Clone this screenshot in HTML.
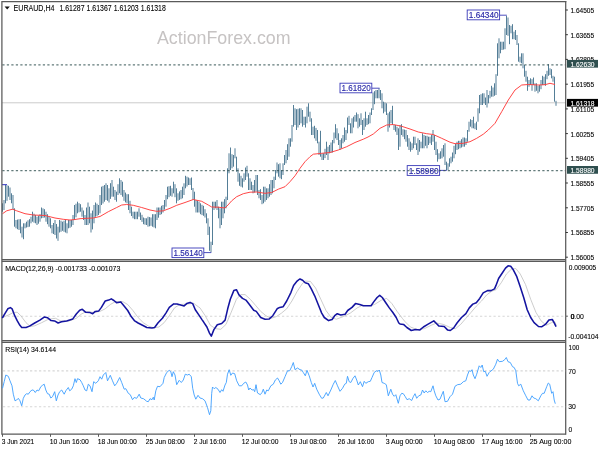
<!DOCTYPE html><html><head><meta charset="utf-8"><title>EURAUD H4</title>
<style>html,body{margin:0;padding:0;background:#fff}svg{display:block}text{font-family:'Liberation Sans', sans-serif}</style></head><body>
<svg width="600" height="450" viewBox="0 0 600 450">
<rect width="600" height="450" fill="#fff"/>
<text x="157" y="43.8" font-size="18.6" fill="#c6c3c3" textLength="133.5" lengthAdjust="spacingAndGlyphs">ActionForex.com</text>
<line x1="2" x2="565.7" y1="102.8" y2="102.8" stroke="#cbcbcb" stroke-width="1"/>
<path d="M2.50,203.3V211.7M4.00,200.0V210.0M5.50,185.0V203.3M7.00,185.3V200.8M8.50,185.8V196.7M10.00,187.5V200.0M11.50,193.3V203.3M13.00,195.0V210.0M14.50,208.3V226.7M16.00,220.0V228.3M17.50,219.6V229.2M19.00,219.2V230.0M20.50,219.2V233.3M22.00,226.7V237.5M23.50,223.3V239.2M25.00,223.3V228.3M26.50,221.7V227.5M28.00,220.3V227.1M29.50,219.2V226.7M31.00,216.7V223.3M32.50,211.7V221.7M34.00,213.7V222.7M35.50,215.0V223.3M37.00,216.7V225.0M38.50,215.7V223.7M40.00,214.2V221.7M41.50,207.5V218.3M43.00,208.4V217.9M44.50,209.2V217.5M46.00,211.7V221.7M47.50,214.2V224.2M49.00,216.7V226.7M50.50,218.3V228.3M52.00,225.0V233.3M53.50,223.0V234.0M55.00,220.0V235.0M56.50,224.0V238.5M58.00,226.7V240.8M59.50,220.0V232.5M61.00,220.7V231.8M62.50,221.7V230.8M64.00,220.7V231.8M65.50,220.0V232.5M67.00,223.3V233.3M68.50,220.0V228.3M70.00,220.0V227.8M71.50,220.0V226.7M73.00,215.0V225.0M74.50,205.0V220.0M76.00,203.7V217.3M77.50,201.7V213.3M79.00,203.2V212.3M80.50,204.2V211.7M82.00,207.5V216.7M83.50,210.5V220.0M85.00,215.0V225.0M86.50,207.5V225.0M88.00,202.5V225.0M89.50,206.7V223.3M91.00,213.3V232.5M92.50,210.6V229.4M94.00,205.0V223.3M95.50,202.5V216.7M97.00,203.7V215.9M98.50,205.0V215.0M100.00,195.0V213.3M101.50,186.7V205.0M103.00,185.9V203.5M104.50,185.0V201.7M106.00,183.3V200.0M107.50,185.0V200.8M109.00,188.3V202.5M110.50,183.2V198.9M112.00,180.0V196.7M113.50,186.7V196.7M115.00,190.0V200.0M116.50,191.7V201.7M118.00,184.2V195.0M119.50,178.3V193.3M121.00,180.0V195.0M122.50,181.7V196.7M124.00,190.0V200.8M125.50,192.6V202.4M127.00,194.2V203.3M128.50,194.2V210.0M130.00,200.8V213.3M131.50,206.7V216.0M133.00,211.7V218.3M134.50,211.7V219.2M136.00,211.7V219.2M137.50,211.7V219.2M139.00,208.3V216.7M140.50,212.5V220.0M142.00,214.8V221.9M143.50,217.5V224.2M145.00,218.1V224.7M146.50,218.3V225.0M148.00,216.7V226.7M149.50,217.1V226.3M151.00,217.5V225.8M152.50,214.2V226.7M154.00,214.2V227.4M155.50,214.2V228.3M157.00,207.5V220.0M158.50,207.5V217.7M160.00,207.5V215.0M161.50,205.8V214.2M163.00,205.0V212.5M164.50,200.0V209.6M166.00,195.0V206.7M167.50,186.7V199.2M169.00,186.2V197.2M170.50,185.8V195.8M172.00,188.3V196.7M173.50,181.7V193.3M175.00,184.2V197.2M176.50,188.3V203.3M178.00,193.3V200.8M179.50,191.4V199.9M181.00,190.0V199.2M182.50,186.7V198.3M184.00,183.3V195.0M185.50,175.8V188.3M187.00,176.7V186.5M188.50,177.5V185.0M190.00,178.3V185.0M191.50,177.5V190.0M193.00,188.0V200.0M194.50,191.7V206.7M196.00,200.0V212.5M197.50,200.7V212.5M199.00,201.7V212.5M200.50,203.3V214.2M202.00,204.8V215.1M203.50,205.8V215.8M205.00,209.2V217.5M206.50,213.3V223.3M208.00,218.3V235.0M209.50,226.7V250.8M211.00,241.7V252.5M212.50,201.7V245.0M214.00,201.7V210.0M215.50,201.7V208.3M217.00,200.0V210.0M218.50,206.7V218.3M220.00,208.3V228.3M221.50,201.7V225.0M223.00,201.7V218.3M224.50,199.2V213.3M226.00,196.7V208.3M227.50,168.3V200.0M229.00,153.3V173.3M230.50,147.5V170.0M232.00,154.2V168.3M233.50,155.0V166.7M235.00,148.3V158.3M236.50,156.7V171.7M238.00,168.3V181.7M239.50,173.3V185.8M241.00,175.8V186.7M242.50,178.3V187.5M244.00,173.3V181.7M245.50,167.5V180.0M247.00,165.8V176.7M248.50,173.3V190.0M250.00,178.3V190.0M251.50,181.7V190.0M253.00,185.0V193.3M254.50,180.0V192.5M256.00,175.0V191.7M257.50,175.0V195.0M259.00,190.0V198.3M260.50,189.2V200.0M262.00,195.0V204.2M263.50,186.7V203.3M265.00,186.7V201.7M266.50,188.3V200.0M268.00,188.3V198.3M269.50,184.2V196.7M271.00,180.0V195.0M272.50,180.0V193.3M274.00,176.7V188.3M275.50,170.0V180.0M277.00,162.5V173.3M278.50,164.2V176.7M280.00,163.3V178.3M281.50,170.0V179.2M283.00,163.3V175.0M284.50,155.0V165.0M286.00,150.0V163.3M287.50,144.2V160.0M289.00,138.3V156.7M290.50,138.3V146.7M292.00,125.0V141.7M293.50,105.0V126.7M295.00,108.3V125.0M296.50,109.2V130.0M298.00,108.8V127.5M299.50,108.3V125.0M301.00,108.3V123.3M302.50,110.0V126.7M304.00,116.7V125.0M305.50,116.7V127.5M307.00,106.7V123.3M308.50,103.3V116.7M310.00,111.7V121.7M311.50,118.3V135.0M313.00,126.7V135.0M314.50,125.8V138.3M316.00,127.9V140.8M317.50,130.0V143.3M319.00,141.7V155.0M320.50,130.8V156.7M322.00,153.3V160.0M323.50,153.3V160.0M325.00,148.8V158.1M326.50,141.7V155.0M328.00,146.7V160.0M329.50,145.0V153.3M331.00,142.5V152.9M332.50,140.0V152.5M334.00,132.5V143.3M335.50,124.2V138.3M337.00,128.3V140.0M338.50,133.3V145.0M340.00,140.0V150.0M341.50,138.3V148.3M343.00,135.0V143.3M344.50,127.5V141.7M346.00,130.0V140.0M347.50,117.5V133.3M349.00,115.8V125.0M350.50,123.3V133.3M352.00,118.3V133.3M353.50,116.7V127.5M355.00,115.0V121.7M356.50,112.5V121.7M358.00,114.2V128.3M359.50,118.3V126.7M361.00,113.3V125.0M362.50,120.0V135.0M364.00,118.3V130.0M365.50,111.7V126.7M367.00,118.3V125.0M368.50,115.0V124.2M370.00,112.5V123.3M371.50,108.3V115.0M373.00,92.5V110.0M374.50,91.2V104.2M376.00,90.0V98.3M377.50,90.0V98.3M379.00,88.3V98.3M380.50,90.0V100.0M382.00,93.3V108.3M383.50,101.7V113.3M385.00,102.5V111.7M386.50,103.3V115.0M388.00,113.3V131.7M389.50,111.7V127.5M391.00,110.0V123.3M392.50,105.8V125.0M394.00,125.0V130.0M395.50,125.0V131.7M397.00,126.7V135.0M398.50,128.3V150.0M400.00,125.0V146.7M401.50,124.2V135.0M403.00,129.2V136.7M404.50,129.6V139.2M406.00,130.0V141.7M407.50,135.0V146.7M409.00,138.3V150.0M410.50,141.7V151.7M412.00,143.3V150.0M413.50,136.7V148.3M415.00,136.7V145.0M416.50,143.3V150.0M418.00,138.3V155.0M419.50,140.0V151.7M421.00,141.7V148.3M422.50,133.3V148.3M424.00,135.0V148.3M425.50,135.8V145.8M427.00,135.8V148.3M428.50,136.7V145.0M430.00,136.7V143.3M431.50,135.0V145.0M433.00,130.0V141.7M434.50,135.0V150.0M436.00,141.7V155.0M437.50,149.2V161.7M439.00,153.3V159.2M440.50,151.3V158.8M442.00,148.3V158.3M443.50,145.0V156.7M445.00,143.3V165.0M446.50,161.7V170.0M448.00,163.3V170.0M449.50,158.3V166.7M451.00,156.7V163.3M452.50,152.5V161.7M454.00,145.8V158.3M455.50,143.8V154.2M457.00,141.7V150.0M458.50,140.8V149.2M460.00,140.8V148.3M461.50,139.2V147.5M463.00,137.5V146.7M464.50,137.5V146.7M466.00,138.3V145.0M467.50,130.0V141.7M469.00,121.7V131.7M470.50,119.2V126.7M472.00,120.0V128.3M473.50,116.7V128.3M475.00,123.3V129.2M476.50,121.7V130.0M478.00,108.3V121.7M479.50,95.0V113.3M481.00,94.2V105.0M482.50,93.3V105.0M484.00,93.3V103.3M485.50,97.5V105.0M487.00,90.0V107.5M488.50,95.0V103.3M490.00,90.8V98.3M491.50,85.8V96.7M493.00,87.5V96.7M494.50,83.3V95.8M496.00,74.2V95.0M497.50,43.3V75.8M499.00,38.3V58.3M500.50,41.7V53.3M502.00,41.7V50.0M503.50,41.7V49.6M505.00,28.3V49.2M506.50,15.8V35.0M508.00,17.5V35.8M509.50,25.0V44.2M511.00,25.8V33.3M512.50,24.2V39.2M514.00,31.7V39.2M515.50,30.0V40.0M517.00,35.0V45.0M518.50,43.3V61.7M520.00,56.7V62.5M521.50,53.3V63.3M523.00,53.3V68.3M524.50,65.0V76.7M526.00,70.8V81.7M527.50,76.7V90.8M529.00,80.0V86.7M530.50,78.3V85.0M532.00,79.2V90.8M533.50,77.5V85.0M535.00,83.3V91.7M536.50,83.3V90.8M538.00,85.8V93.3M539.50,85.0V91.7M541.00,80.0V89.2M542.50,75.8V85.0M544.00,76.7V85.0M545.50,74.2V85.8M547.00,70.8V79.2M548.50,64.2V75.8M550.00,68.3V75.0M551.50,69.2V78.3M553.00,75.8V81.7M554.50,76.7V101.7M556.00,100.8V105.8" stroke="#4b7791" stroke-width="1.0" fill="none" opacity="0.95"/>
<path d="M2.5,213.7 L6.7,210.8 L12.5,209.2 L16.7,210.8 L25.0,213.7 L33.3,215.0 L45.0,215.5 L55.0,218.0 L63.3,219.3 L70.0,220.0 L75.0,219.5 L80.0,218.7 L86.7,218.3 L93.3,218.0 L100.0,216.5 L108.3,211.7 L116.7,207.5 L121.7,205.0 L126.7,204.5 L133.3,205.3 L141.7,207.5 L150.0,210.0 L156.7,211.3 L163.3,210.8 L170.0,208.3 L176.7,205.3 L185.0,202.5 L193.3,199.5 L201.7,201.3 L208.3,205.0 L211.7,207.0 L218.3,207.2 L225.0,208.0 L228.0,205.0 L231.7,200.8 L236.7,196.7 L243.3,193.7 L250.0,192.2 L256.7,192.0 L265.0,193.3 L271.7,192.5 L278.3,189.2 L285.0,186.7 L290.0,181.7 L295.0,175.8 L300.0,168.3 L305.0,161.7 L310.0,156.7 L313.3,154.2 L321.7,153.3 L330.0,152.5 L338.3,150.0 L346.7,146.7 L355.0,142.5 L363.3,139.2 L368.0,137.0 L373.3,134.0 L380.0,128.3 L386.7,125.0 L393.3,124.5 L401.7,126.3 L410.0,129.0 L418.3,132.0 L426.7,133.7 L433.3,134.5 L441.7,138.3 L450.0,142.2 L455.0,143.7 L463.3,143.3 L470.0,141.7 L476.7,138.3 L483.3,134.2 L488.3,130.0 L495.0,123.3 L501.7,111.7 L508.3,100.0 L515.0,90.0 L521.7,85.0 L528.3,84.5 L538.3,85.0 L545.0,84.7 L550.0,83.3 L555.0,84.5" stroke="#ff3c3c" stroke-width="0.95" fill="none" stroke-linejoin="round"/>
<path d="M499.59999999999997,15.2H506.8" stroke="#3a3ab8" stroke-width="0.9" fill="none"/><rect x="467.2" y="10" width="32.4" height="9.8" fill="#fff" stroke="#3a3ab8" stroke-width="0.9"/>
<path d="M371.8,88.2H379.6" stroke="#3a3ab8" stroke-width="0.9" fill="none"/><rect x="340" y="83.2" width="31.8" height="9.6" fill="#fff" stroke="#3a3ab8" stroke-width="0.9"/>
<path d="M439.59999999999997,170.4H446.8" stroke="#3a3ab8" stroke-width="0.9" fill="none"/><rect x="407.2" y="165.6" width="32.4" height="9.8" fill="#fff" stroke="#3a3ab8" stroke-width="0.9"/>
<path d="M203.8,252.6H211.2" stroke="#3a3ab8" stroke-width="0.9" fill="none"/><rect x="172" y="248" width="31.8" height="9.6" fill="#fff" stroke="#3a3ab8" stroke-width="0.9"/>
<path d="M2,184.7H7" stroke="#2a2ac0" stroke-width="1"/>
<line x1="2" x2="565.7" y1="64.8" y2="64.8" stroke="#2f4f4f" stroke-width="1.2" stroke-dasharray="2.25 2.25" stroke-dashoffset="-0.3" opacity="0.75"/>
<line x1="2" x2="565.7" y1="170.6" y2="170.6" stroke="#2f4f4f" stroke-width="1.2" stroke-dasharray="2.25 2.25" stroke-dashoffset="-0.3" opacity="0.75"/>
<text x="483.7" y="18.3" font-size="8.7" fill="#2a2aa8" stroke="#2a2aa8" stroke-width="0.15" text-anchor="middle" textLength="29.8" lengthAdjust="spacingAndGlyphs">1.64340</text>
<text x="356.2" y="91.3" font-size="8.7" fill="#2a2aa8" stroke="#2a2aa8" stroke-width="0.15" text-anchor="middle" textLength="29.2" lengthAdjust="spacingAndGlyphs">1.61820</text>
<text x="423.7" y="173.9" font-size="8.7" fill="#2a2aa8" stroke="#2a2aa8" stroke-width="0.15" text-anchor="middle" textLength="29.8" lengthAdjust="spacingAndGlyphs">1.58980</text>
<text x="188.20000000000002" y="256.1" font-size="8.7" fill="#2a2aa8" stroke="#2a2aa8" stroke-width="0.15" text-anchor="middle" textLength="29.2" lengthAdjust="spacingAndGlyphs">1.56140</text>
<g stroke="#5a5a5a" stroke-width="1.25" fill="none">
<path d="M1.9,434.8V1.7H566.3"/>
<path d="M565.7,1.1V434.8"/>
<path d="M1.9,259.6H565.7M1.9,261.4H565.7M1.9,340.5H565.7M1.9,342.3H565.7M1.9,434.2H565.7"/>
</g>
<line x1="2" x2="565.7" y1="316.2" y2="316.2" stroke="#cdcdcd" stroke-width="1.15" stroke-dasharray="2.25 2.25" stroke-dashoffset="-1" opacity="0.8"/>
<path d="M2.6,317.5 L8.7,314.9 L13.9,312.3 L17.3,312.3 L20.8,315.7 L26.0,322.7 L30.3,326.5 L34.7,325.8 L41.6,322.7 L48.5,319.2 L55.5,318.3 L60.7,320.9 L69.3,320.9 L76.3,318.3 L81.5,314.0 L86.7,311.4 L93.6,312.6 L99.7,311.4 L100.0,311.4 L105.2,308.8 L110.4,304.5 L115.6,301.5 L122.5,301.5 L127.7,304.5 L132.9,310.5 L138.1,317.5 L143.3,322.7 L148.5,326.1 L153.7,327.9 L158.9,327.0 L164.1,322.7 L169.3,315.7 L174.5,307.9 L179.7,304.5 L186.7,304.1 L193.6,303.3 L198.8,307.1 L200.0,307.9 L205.2,315.7 L210.4,325.3 L215.6,328.7 L220.8,329.3 L226.0,324.4 L231.2,312.3 L236.4,299.3 L240.7,294.6 L245.1,294.6 L250.3,299.3 L255.5,305.3 L260.7,311.4 L265.9,315.7 L271.1,318.3 L276.3,316.6 L281.5,313.1 L286.7,308.8 L291.9,301.0 L297.1,291.5 L302.3,283.7 L305.2,281.1 L310.4,281.4 L315.6,288.0 L320.8,299.3 L326.0,310.5 L331.2,317.5 L336.4,319.2 L343.3,316.6 L350.3,313.1 L357.2,307.9 L362.4,305.3 L369.3,305.7 L374.5,304.5 L381.5,300.1 L386.7,298.4 L391.9,303.6 L397.1,311.4 L402.3,318.3 L405.2,321.8 L410.4,327.0 L417.3,329.6 L424.3,328.7 L431.2,325.3 L436.4,323.0 L443.3,324.4 L450.3,327.5 L455.5,328.7 L460.7,324.4 L465.9,318.3 L471.1,312.3 L476.3,306.2 L481.5,301.0 L486.7,294.9 L491.9,291.1 L496.0,289.7 L501.2,282.8 L506.4,274.1 L511.6,268.9 L515.9,268.6 L520.3,274.1 L525.5,284.5 L530.7,299.3 L535.9,312.3 L541.1,320.9 L546.3,325.3 L551.5,322.7 L554.9,321.8 L556.3,325.3" stroke="#bcbcbc" stroke-width="0.75" fill="none"/>
<path d="M2.6,317.5 L5.2,313.1 L7.8,308.8 L10.4,307.6 L12.1,308.8 L14.7,315.7 L17.3,320.9 L19.9,325.3 L21.7,327.5 L26.0,327.5 L29.5,326.1 L34.7,323.0 L39.9,320.1 L44.2,317.1 L47.7,317.8 L51.1,320.6 L54.6,320.9 L58.1,323.0 L61.5,321.8 L66.7,320.9 L72.8,318.9 L76.3,314.0 L79.7,310.2 L82.3,309.3 L85.8,312.3 L90.1,312.6 L92.7,313.7 L95.3,311.4 L98.8,310.9 L101.4,307.4 L102.6,305.3 L105.2,301.0 L108.7,300.1 L111.3,298.9 L113.9,300.5 L116.5,302.7 L120.8,301.9 L124.3,306.2 L127.7,310.5 L131.2,316.6 L134.7,320.9 L138.1,323.0 L142.5,325.3 L146.8,327.5 L152.0,327.9 L154.6,327.5 L158.1,322.7 L162.4,318.3 L165.9,313.1 L169.3,307.4 L173.7,303.9 L177.1,304.1 L181.5,305.3 L184.1,305.9 L186.7,303.6 L190.1,302.4 L192.7,303.6 L195.3,309.7 L198.8,314.9 L202.3,320.1 L203.5,321.8 L206.9,327.0 L209.5,333.1 L211.3,336.2 L213.9,329.6 L217.3,324.7 L221.7,323.5 L225.1,320.1 L227.7,308.8 L230.3,299.3 L233.8,290.6 L236.4,289.7 L239.0,294.9 L242.5,298.4 L245.9,300.1 L249.4,304.5 L253.7,310.2 L256.3,311.4 L260.7,317.5 L265.0,319.2 L269.3,318.9 L272.8,315.7 L277.1,308.8 L279.7,307.4 L283.2,306.7 L286.7,301.0 L291.0,292.3 L293.6,285.4 L297.1,281.1 L299.7,279.0 L300.0,279.0 L302.6,280.2 L305.2,282.8 L308.3,283.7 L311.3,288.9 L314.7,295.8 L318.2,304.5 L321.7,313.1 L324.3,317.5 L328.6,320.6 L332.1,319.5 L334.7,315.7 L337.3,313.7 L340.7,314.9 L345.1,314.3 L347.7,310.5 L352.0,307.4 L355.5,303.6 L359.8,304.5 L363.3,305.7 L371.1,305.7 L373.7,301.9 L377.1,297.5 L379.7,295.3 L382.3,297.5 L385.8,302.7 L389.3,307.9 L392.7,312.3 L396.2,317.5 L398.8,323.0 L400.0,323.9 L403.5,324.4 L406.9,327.5 L411.3,330.5 L415.6,329.6 L419.9,329.9 L423.4,327.0 L427.7,324.4 L433.8,320.9 L436.4,323.5 L439.0,326.1 L444.2,326.5 L447.7,330.1 L450.3,330.5 L453.7,327.9 L457.2,322.7 L461.5,317.5 L465.9,313.7 L469.3,307.9 L472.8,304.1 L476.3,302.7 L479.7,298.4 L483.2,292.9 L487.5,290.6 L491.0,290.6 L494.5,288.9 L496.0,285.4 L498.6,278.5 L502.1,273.3 L505.5,268.1 L508.1,265.8 L510.7,266.3 L513.3,269.8 L516.8,276.7 L520.3,287.1 L523.7,297.5 L527.2,309.7 L530.7,317.5 L534.1,322.7 L538.5,326.5 L541.9,326.7 L545.4,324.4 L548.9,320.1 L552.3,319.5 L554.1,322.7 L555.8,326.1" stroke="#1414a0" stroke-width="1.55" fill="none" stroke-linejoin="round" stroke-linecap="round"/>
<line x1="2" x2="565.7" y1="370.8" y2="370.8" stroke="#cdcdcd" stroke-width="1.15" stroke-dasharray="2.25 2.25" stroke-dashoffset="-1" opacity="0.8"/>
<line x1="2" x2="565.7" y1="406.7" y2="406.7" stroke="#cdcdcd" stroke-width="1.15" stroke-dasharray="2.25 2.25" stroke-dashoffset="-1" opacity="0.8"/>
<path d="M2.5,388.3 L4.2,381.7 L5.8,375.0 L8.3,376.3 L10.0,380.8 L12.0,385.8 L13.3,394.2 L15.0,400.8 L16.7,400.0 L18.3,398.3 L20.0,400.8 L21.7,405.8 L23.3,398.3 L25.0,395.0 L26.7,393.7 L28.3,394.2 L30.0,391.7 L32.0,390.0 L33.3,390.0 L35.3,392.5 L37.0,390.0 L38.7,390.8 L40.8,386.7 L42.5,385.3 L44.2,384.2 L45.8,390.0 L47.5,393.7 L49.2,394.2 L50.8,398.0 L52.5,396.7 L54.7,391.7 L56.3,400.8 L58.0,395.0 L59.7,391.7 L61.7,390.0 L64.2,394.2 L65.8,390.8 L68.3,387.5 L69.7,390.8 L71.7,389.2 L73.3,385.8 L75.0,378.7 L76.3,382.5 L77.5,378.7 L80.0,379.7 L81.7,382.5 L83.3,385.8 L85.0,390.0 L86.7,390.8 L88.3,384.2 L90.0,385.8 L92.0,391.7 L93.7,381.7 L95.8,383.3 L98.3,380.8 L100.0,376.7 L101.7,379.2 L103.3,375.0 L105.8,372.5 L107.5,380.8 L110.3,375.3 L112.5,380.8 L114.7,385.8 L116.7,383.3 L119.7,377.5 L121.7,382.5 L124.2,389.2 L125.8,388.7 L128.3,393.3 L130.3,394.7 L132.5,399.7 L134.2,397.5 L136.7,398.3 L139.2,394.2 L140.8,398.0 L143.7,398.8 L146.7,401.3 L148.3,401.7 L150.0,398.7 L152.0,399.7 L153.3,397.2 L154.2,400.0 L155.8,390.8 L157.5,386.3 L160.0,386.7 L163.0,383.3 L164.2,377.5 L166.7,372.5 L169.2,370.3 L170.8,371.7 L172.0,376.7 L173.3,371.7 L175.0,375.0 L176.7,384.7 L179.2,380.3 L181.3,382.5 L183.3,380.0 L185.3,374.2 L187.5,375.0 L189.2,374.2 L191.3,376.7 L192.7,388.3 L194.2,395.0 L195.8,399.2 L198.0,395.3 L200.0,398.0 L202.5,398.7 L205.0,400.8 L207.5,407.5 L209.5,414.7 L210.8,410.8 L211.7,393.3 L212.5,387.0 L214.2,388.7 L215.8,387.5 L218.0,389.2 L220.0,392.5 L221.7,389.7 L223.0,391.3 L225.0,385.0 L226.3,382.5 L227.5,374.2 L229.2,369.7 L230.8,375.3 L232.5,373.0 L234.7,373.7 L236.7,380.8 L239.2,385.8 L241.7,385.8 L243.7,383.3 L245.8,382.0 L247.5,385.0 L248.7,390.0 L250.0,388.0 L252.0,390.0 L253.7,389.7 L254.7,391.7 L256.0,384.7 L257.5,393.0 L260.3,394.7 L262.0,392.5 L263.3,389.2 L265.0,394.2 L266.7,390.0 L268.3,390.8 L270.8,385.8 L273.3,384.2 L275.3,380.0 L277.5,378.0 L279.2,380.8 L280.8,384.2 L282.5,382.5 L285.0,376.7 L287.5,370.8 L289.7,370.8 L291.7,366.7 L293.3,362.5 L295.0,369.7 L297.5,368.0 L300.0,369.7 L301.7,370.0 L303.3,372.5 L305.3,375.8 L307.0,370.3 L309.2,375.8 L311.3,382.5 L313.0,387.0 L314.7,383.3 L316.7,389.2 L319.2,394.2 L321.7,398.3 L323.3,398.0 L326.3,392.5 L328.0,395.8 L330.8,390.0 L333.3,384.2 L335.3,380.5 L337.5,385.8 L340.0,391.3 L342.5,388.3 L344.7,384.2 L346.3,383.3 L347.5,376.3 L349.2,381.7 L350.8,382.5 L353.0,378.3 L355.0,375.8 L356.7,380.0 L358.3,385.0 L360.3,381.7 L362.5,386.7 L364.2,381.3 L365.8,383.3 L368.3,381.7 L370.3,381.3 L372.0,377.5 L374.2,372.5 L376.3,370.8 L378.0,371.3 L379.3,370.0 L380.8,375.0 L382.0,382.5 L384.2,383.3 L386.3,384.7 L388.3,395.8 L390.8,389.2 L392.5,394.2 L394.2,396.3 L395.8,394.7 L398.3,403.3 L400.0,395.8 L401.7,393.3 L403.3,393.7 L405.3,396.7 L407.0,399.7 L409.2,398.7 L411.7,400.5 L413.3,396.7 L415.0,393.7 L416.7,398.3 L418.7,395.8 L420.8,395.0 L422.5,390.0 L424.2,393.0 L425.8,390.8 L427.5,392.5 L429.2,391.3 L430.8,391.7 L433.0,385.8 L434.2,390.8 L435.8,395.8 L438.0,400.0 L440.0,399.2 L441.7,395.0 L443.3,391.3 L445.0,401.7 L447.5,401.3 L450.0,396.7 L452.5,394.2 L455.0,386.3 L457.5,384.7 L460.8,384.2 L463.3,381.7 L465.8,380.8 L467.5,375.0 L469.2,370.8 L470.8,371.3 L472.0,369.7 L473.3,375.0 L475.0,378.7 L476.7,374.2 L479.2,365.8 L480.8,367.5 L482.2,365.0 L483.7,371.7 L485.3,371.3 L487.0,376.3 L489.2,372.5 L490.0,371.7 L493.3,369.2 L495.8,364.2 L497.5,359.2 L499.2,361.7 L502.5,361.3 L504.7,359.7 L506.3,357.5 L508.0,361.7 L510.3,362.5 L512.5,366.7 L514.2,367.5 L515.8,370.8 L517.5,383.3 L518.7,385.8 L520.8,384.2 L523.3,390.8 L525.8,395.8 L528.0,400.0 L530.0,400.0 L532.0,395.8 L533.7,398.0 L535.8,398.7 L538.3,400.8 L540.8,395.8 L542.5,393.3 L544.2,393.3 L546.7,386.7 L548.3,383.0 L549.7,384.2 L551.7,393.3 L553.0,391.7 L554.2,400.0 L555.3,403.7" stroke="#3d9eff" stroke-width="0.9" fill="none" stroke-linejoin="round"/>
<g font-size="7.9" fill="#000" stroke="#000" stroke-width="0.1">
<path d="M565.7,10h2.2" stroke="#333" stroke-width="1"/>
<text x="570.4" y="12.9" textLength="23.8" lengthAdjust="spacingAndGlyphs">1.64505</text>
<path d="M565.7,34.7h2.2" stroke="#333" stroke-width="1"/>
<text x="570.4" y="37.6" textLength="23.8" lengthAdjust="spacingAndGlyphs">1.63655</text>
<path d="M565.7,59.4h2.2" stroke="#333" stroke-width="1"/>
<text x="570.4" y="62.3" textLength="23.8" lengthAdjust="spacingAndGlyphs">1.62805</text>
<path d="M565.7,84.2h2.2" stroke="#333" stroke-width="1"/>
<text x="570.4" y="87.10000000000001" textLength="23.8" lengthAdjust="spacingAndGlyphs">1.61955</text>
<path d="M565.7,108.9h2.2" stroke="#333" stroke-width="1"/>
<text x="570.4" y="111.80000000000001" textLength="23.8" lengthAdjust="spacingAndGlyphs">1.61105</text>
<path d="M565.7,133.6h2.2" stroke="#333" stroke-width="1"/>
<text x="570.4" y="136.5" textLength="23.8" lengthAdjust="spacingAndGlyphs">1.60255</text>
<path d="M565.7,158.3h2.2" stroke="#333" stroke-width="1"/>
<text x="570.4" y="161.20000000000002" textLength="23.8" lengthAdjust="spacingAndGlyphs">1.59405</text>
<path d="M565.7,183h2.2" stroke="#333" stroke-width="1"/>
<text x="570.4" y="185.9" textLength="23.8" lengthAdjust="spacingAndGlyphs">1.58555</text>
<path d="M565.7,207.8h2.2" stroke="#333" stroke-width="1"/>
<text x="570.4" y="210.70000000000002" textLength="23.8" lengthAdjust="spacingAndGlyphs">1.57705</text>
<path d="M565.7,232.5h2.2" stroke="#333" stroke-width="1"/>
<text x="570.4" y="235.4" textLength="23.8" lengthAdjust="spacingAndGlyphs">1.56855</text>
<path d="M565.7,257.2h2.2" stroke="#333" stroke-width="1"/>
<text x="570.4" y="260.09999999999997" textLength="23.8" lengthAdjust="spacingAndGlyphs">1.56005</text>
<text x="568.8" y="269.6" textLength="27.4" lengthAdjust="spacingAndGlyphs">0.009005</text><text x="570.4" y="318.9" textLength="13.4" lengthAdjust="spacingAndGlyphs">0.00</text><text x="570.7" y="318.9" textLength="3.9" lengthAdjust="spacingAndGlyphs">0</text><text x="568.2" y="338.5" textLength="30.3" lengthAdjust="spacingAndGlyphs">-0.004104</text>
<path d="M565.7,316.2h2.2" stroke="#5a5a5a" stroke-width="1"/>
<text x="568.6" y="350.1" textLength="10.6" lengthAdjust="spacingAndGlyphs">100</text><text x="568.2" y="373.5" textLength="7.6" lengthAdjust="spacingAndGlyphs">70</text><text x="568.2" y="409.4" textLength="7.6" lengthAdjust="spacingAndGlyphs">30</text><text x="568.4" y="431.6" textLength="3.7" lengthAdjust="spacingAndGlyphs">0</text>
</g>
<rect x="567" y="59.9" width="31" height="7.75" fill="#2f4f4f"/><text x="570.4" y="66.7" font-size="7.6" fill="#fff" stroke="#fff" stroke-width="0.12" textLength="24.2" lengthAdjust="spacingAndGlyphs">1.62630</text>
<rect x="567" y="166" width="31" height="7.75" fill="#2f4f4f"/><text x="570.4" y="173" font-size="7.6" fill="#fff" stroke="#fff" stroke-width="0.12" textLength="24.2" lengthAdjust="spacingAndGlyphs">1.58980</text>
<rect x="567" y="98.9" width="31" height="7.75" fill="#000"/><text x="570.4" y="105.8" font-size="7.6" fill="#fff" stroke="#fff" stroke-width="0.12" textLength="24.2" lengthAdjust="spacingAndGlyphs">1.61318</text>
<path d="M4.6,6.5h5.2l-2.6,3z" fill="#111"/>
<text x="13.6" y="10.7" font-size="8.3" fill="#000" stroke="#000" stroke-width="0.1" textLength="40.9" lengthAdjust="spacingAndGlyphs">EURAUD,H4</text>
<text x="59.5" y="10.7" font-size="8.3" fill="#000" stroke="#000" stroke-width="0.1" textLength="25" lengthAdjust="spacingAndGlyphs">1.61287</text>
<text x="86.6" y="10.7" font-size="8.3" fill="#000" stroke="#000" stroke-width="0.1" textLength="25" lengthAdjust="spacingAndGlyphs">1.61367</text>
<text x="113.7" y="10.7" font-size="8.3" fill="#000" stroke="#000" stroke-width="0.1" textLength="25" lengthAdjust="spacingAndGlyphs">1.61203</text>
<text x="140.8" y="10.7" font-size="8.3" fill="#000" stroke="#000" stroke-width="0.1" textLength="25" lengthAdjust="spacingAndGlyphs">1.61318</text>
<text x="5.3" y="270.8" font-size="7.9" fill="#000" stroke="#000" stroke-width="0.1" textLength="115" lengthAdjust="spacingAndGlyphs">MACD(12,26,9) -0.001733 -0.001073</text>
<text x="5.3" y="352" font-size="7.9" fill="#000" stroke="#000" stroke-width="0.1" textLength="50.7" lengthAdjust="spacingAndGlyphs">RSI(14) 34.6144</text>
<g font-size="7.9" fill="#000" stroke="#000" stroke-width="0.1">
<path d="M2.5,434v2.8" stroke="#5a5a5a" stroke-width="1"/>
<text x="1.7" y="444" textLength="32.5" lengthAdjust="spacingAndGlyphs">3 Jun 2021</text>
<path d="M50.5,434v2.8" stroke="#5a5a5a" stroke-width="1"/>
<text x="49.7" y="444" textLength="39.2" lengthAdjust="spacingAndGlyphs">10 Jun 16:00</text>
<path d="M98.5,434v2.8" stroke="#5a5a5a" stroke-width="1"/>
<text x="97.7" y="444" textLength="39" lengthAdjust="spacingAndGlyphs">18 Jun 00:00</text>
<path d="M146.5,434v2.8" stroke="#5a5a5a" stroke-width="1"/>
<text x="145.7" y="444" textLength="39" lengthAdjust="spacingAndGlyphs">25 Jun 08:00</text>
<path d="M194.5,434v2.8" stroke="#5a5a5a" stroke-width="1"/>
<text x="193.7" y="444" textLength="32.5" lengthAdjust="spacingAndGlyphs">2 Jul 16:00</text>
<path d="M242.5,434v2.8" stroke="#5a5a5a" stroke-width="1"/>
<text x="241.7" y="444" textLength="36.7" lengthAdjust="spacingAndGlyphs">12 Jul 00:00</text>
<path d="M290.5,434v2.8" stroke="#5a5a5a" stroke-width="1"/>
<text x="289.7" y="444" textLength="36.7" lengthAdjust="spacingAndGlyphs">19 Jul 08:00</text>
<path d="M338.5,434v2.8" stroke="#5a5a5a" stroke-width="1"/>
<text x="337.7" y="444" textLength="36.5" lengthAdjust="spacingAndGlyphs">26 Jul 16:00</text>
<path d="M386.5,434v2.8" stroke="#5a5a5a" stroke-width="1"/>
<text x="385.7" y="444" textLength="37" lengthAdjust="spacingAndGlyphs">3 Aug 00:00</text>
<path d="M434.5,434v2.8" stroke="#5a5a5a" stroke-width="1"/>
<text x="433.7" y="444" textLength="41" lengthAdjust="spacingAndGlyphs">10 Aug 08:00</text>
<path d="M482.5,434v2.8" stroke="#5a5a5a" stroke-width="1"/>
<text x="481.7" y="444" textLength="40.8" lengthAdjust="spacingAndGlyphs">17 Aug 16:00</text>
<path d="M530.5,434v2.8" stroke="#5a5a5a" stroke-width="1"/>
<text x="529.7" y="444" textLength="41.7" lengthAdjust="spacingAndGlyphs">25 Aug 00:00</text>
</g>
</svg></body></html>
